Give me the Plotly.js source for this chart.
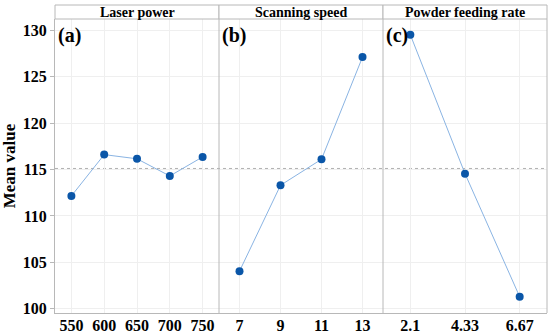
<!DOCTYPE html>
<html><head><meta charset="utf-8">
<script src="https://cdn.plot.ly/plotly-3.0.1.min.js"></script>
<style>html,body{margin:0;padding:0;background:#fff}#chart{width:550px;height:336px}</style>
</head><body><div id="chart"></div>
<script>
const laserPowerLabels = ["550","600","650","700","750"];
const laserPowerValues = [112.15, 116.6, 116.15, 114.3, 116.35];
const scanSpeedLabels = ["7","9","11","13"];
const scanSpeedValues = [104.05, 113.3, 116.1, 127.1];
const powderRateLabels = ["2.1","4.33","6.67"];
const powderRateValues = [129.5, 114.55, 101.3];
const panelTitles = ["Laser power","Scanning speed","Powder feeding rate"];
const panelLetters = ["(a)","(b)","(c)"];
const yTickValues = [100,105,110,115,120,125,130];

const grandMean = laserPowerValues.reduce((a,b)=>a+b,0)/laserPowerValues.length;

const serif = "Liberation Serif, Times New Roman, serif";
const lineColor = "#8ab4e3";
const markerColor = "#0a56a8";
const gridColor = "#efefef";
const borderColor = "#b8b8b8";

const groups = [
  [laserPowerLabels, laserPowerValues],
  [scanSpeedLabels, scanSpeedValues],
  [powderRateLabels, powderRateValues]
];

const traces = groups.map((g,i)=>({
  x: g[0], y: g[1], type: "scatter", mode: "lines+markers",
  xaxis: i===0 ? "x" : "x"+(i+1), yaxis: "y",
  line: {color: lineColor, width: 1},
  marker: {color: markerColor, size: 8},
  showlegend: false, hoverinfo: "skip"
}));

const stripH = 14/294;
const shapes = [];
const annotations = [];
const doms = [[0,1/3],[1/3,2/3],[2/3,1]];
doms.forEach((d,i)=>{
  shapes.push({type:"rect", xref:"paper", yref:"paper", x0:d[0], x1:d[1], y0:1, y1:1+stripH,
    line:{color:borderColor, width:1}, fillcolor:"#ffffff", layer:"above"});
  shapes.push({type:"line", xref:"paper", yref:"paper", x0:d[1], x1:d[1], y0:0, y1:1,
    line:{color:borderColor, width:1}, layer:"above"});
  annotations.push({xref:"paper", yref:"paper", x:(d[0]+d[1])/2, y:1+stripH/2, text:panelTitles[i],
    showarrow:false, xanchor:"center", yanchor:"middle", font:{family:serif, size:14, color:"#000"}});
  annotations.push({xref:"paper", yref:"paper", x:d[0]+0.002, y:0.99, text:panelLetters[i],
    showarrow:false, xanchor:"left", yanchor:"top", font:{family:serif, size:20, color:"#000"}});
});
shapes.push({type:"line", xref:"paper", yref:"y", x0:0, x1:1, y0:grandMean, y1:grandMean,
  line:{color:"#b0b0b0", width:1, dash:"dot"}, layer:"below"});

function xa(i, n){
  return {
    domain: doms[i], anchor: "y", type: "category",
    range: [-0.5, n-0.5], showgrid: true, gridcolor: gridColor, gridwidth: 1,
    showline: true, linecolor: borderColor, linewidth: 1, mirror: false,
    ticks: "", ticklabelstandoff: -2, tickfont: {family: serif, size: 16, color: "#000", weight: "bold"},
    zeroline: false, fixedrange: true
  };
}

const layout = {
  width: 550, height: 336,
  margin: {l: 55, r: 3, t: 19, b: 23, pad: 0},
  paper_bgcolor: "#fff", plot_bgcolor: "#fff",
  font: {family: serif, color: "#000"},
  xaxis: xa(0, laserPowerLabels.length),
  xaxis2: xa(1, scanSpeedLabels.length),
  xaxis3: xa(2, powderRateLabels.length),
  yaxis: {
    range: [99.55, 131.2], tickvals: yTickValues, ticktext: yTickValues.map(String),
    showgrid: true, gridcolor: gridColor, showline: true, linecolor: borderColor, linewidth: 1,
    ticks: "outside", ticklen: 4, tickcolor: borderColor,
    tickfont: {family: serif, size: 16, color: "#000", weight: "bold"},
    title: {text: "<b>Mean value</b>", font: {family: serif, size: 17, color: "#000"}, standoff: 6},
    zeroline: false, fixedrange: true
  },
  shapes: shapes, annotations: annotations
};
annotations.forEach(a=>{a.text = "<b>"+a.text+"</b>";});

Plotly.newPlot("chart", traces, layout, {staticPlot: true, displayModeBar: false});
</script></body></html>
